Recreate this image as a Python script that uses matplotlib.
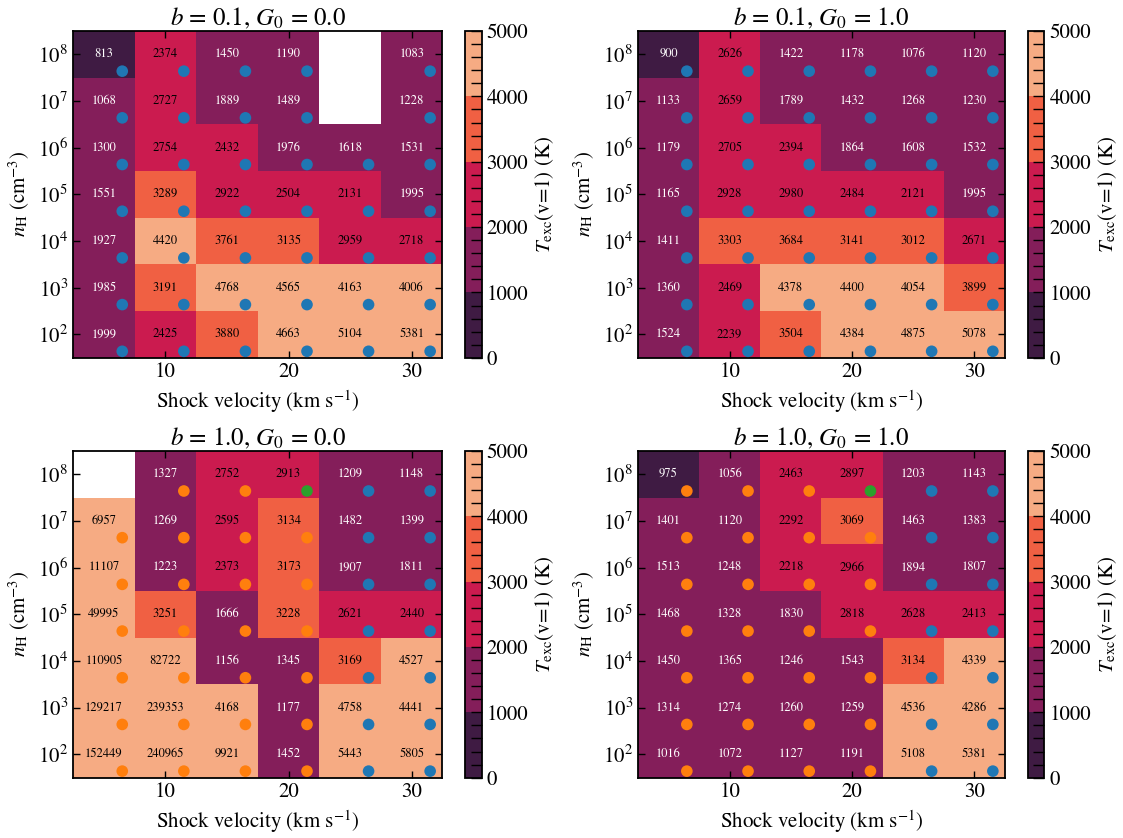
import numpy as np
import matplotlib
matplotlib.use("Agg")
import matplotlib.pyplot as plt
import seaborn as sns
from matplotlib.colors import ListedColormap
from matplotlib.ticker import MultipleLocator

plt.rcParams['font.family'] = ['STIXGeneral', 'DejaVu Serif']
plt.rcParams['mathtext.fontset'] = 'stix'

velocities = [5, 10, 15, 20, 25, 30]                 # km/s
densities = [1e8, 1e7, 1e6, 1e5, 1e4, 1e3, 1e2]      # cm^-3, top row first

titles = [r"$b$ = 0.1, $G_0$ = 0.0", r"$b$ = 0.1, $G_0$ = 1.0",
          r"$b$ = 1.0, $G_0$ = 0.0", r"$b$ = 1.0, $G_0$ = 1.0"]

nan = np.nan
tex_b01_g00 = [[813, 2374, 1450, 1190, nan, 1083],
               [1068, 2727, 1889, 1489, nan, 1228],
               [1300, 2754, 2432, 1976, 1618, 1531],
               [1551, 3289, 2922, 2504, 2131, 1995],
               [1927, 4420, 3761, 3135, 2959, 2718],
               [1985, 3191, 4768, 4565, 4163, 4006],
               [1999, 2425, 3880, 4663, 5104, 5381]]

tex_b01_g10 = [[900, 2626, 1422, 1178, 1076, 1120],
               [1133, 2659, 1789, 1432, 1268, 1230],
               [1179, 2705, 2394, 1864, 1608, 1532],
               [1165, 2928, 2980, 2484, 2121, 1995],
               [1411, 3303, 3684, 3141, 3012, 2671],
               [1360, 2469, 4378, 4400, 4054, 3899],
               [1524, 2239, 3504, 4384, 4875, 5078]]

tex_b10_g00 = [[nan, 1327, 2752, 2913, 1209, 1148],
               [6957, 1269, 2595, 3134, 1482, 1399],
               [11107, 1223, 2373, 3173, 1907, 1811],
               [49995, 3251, 1666, 3228, 2621, 2440],
               [110905, 82722, 1156, 1345, 3169, 4527],
               [129217, 239353, 4168, 1177, 4758, 4441],
               [152449, 240965, 9921, 1452, 5443, 5805]]

tex_b10_g10 = [[975, 1056, 2463, 2897, 1203, 1143],
               [1401, 1120, 2292, 3069, 1463, 1383],
               [1513, 1248, 2218, 2966, 1894, 1807],
               [1468, 1328, 1830, 2818, 2628, 2413],
               [1450, 1365, 1246, 1543, 3134, 4339],
               [1314, 1274, 1260, 1259, 4536, 4286],
               [1016, 1072, 1127, 1191, 5108, 5381]]

# shock type per model: 0, 1, 2 -> C0, C1, C2 ; -1 = no model
type_b01_g00 = [[0, 0, 0, 0, -1, 0],
                [0, 0, 0, 0, -1, 0],
                [0, 0, 0, 0, 0, 0],
                [0, 0, 0, 0, 0, 0],
                [0, 0, 0, 0, 0, 0],
                [0, 0, 0, 0, 0, 0],
                [0, 0, 0, 0, 0, 0]]

type_b01_g10 = [[0] * 6 for i in range(7)]

type_b10_g00 = [[-1, 1, 1, 2, 0, 0],
                [1, 1, 1, 1, 0, 0],
                [1, 1, 1, 1, 0, 0],
                [1, 1, 1, 1, 0, 0],
                [1, 1, 1, 1, 0, 0],
                [1, 1, 1, 1, 0, 0],
                [1, 1, 1, 1, 0, 0]]

type_b10_g10 = [[1, 1, 1, 2, 0, 0],
                [1, 1, 1, 1, 0, 0],
                [1, 1, 1, 1, 0, 0],
                [1, 1, 1, 1, 0, 0],
                [1, 1, 1, 1, 0, 0],
                [1, 1, 1, 1, 0, 0],
                [1, 1, 1, 1, 0, 0]]

tex_all = [tex_b01_g00, tex_b01_g10, tex_b10_g00, tex_b10_g10]
type_all = [type_b01_g00, type_b01_g10, type_b10_g00, type_b10_g10]

cmap = ListedColormap(sns.color_palette("rocket", 5))
cmap.set_over(cmap(4))
cmap.set_bad('white')
dot_colors = ['C0', 'C1', 'C2']

# axes positions in figure fraction [left, bottom, width, height]
ax_pos = [[0.065, 0.573, 0.329, 0.390], [0.568, 0.573, 0.327, 0.390],
          [0.065, 0.072, 0.329, 0.390], [0.568, 0.072, 0.327, 0.390]]
cb_pos = [[0.414, 0.573, 0.015, 0.390], [0.915, 0.573, 0.015, 0.390],
          [0.414, 0.072, 0.015, 0.390], [0.915, 0.072, 0.015, 0.390]]


def main():
    fig = plt.figure(figsize=(11.23, 8.38), dpi=100)

    v = np.array(velocities, dtype=float)
    logn = np.log10(np.array(densities))[::-1]        # ascending
    n = 10 ** logn
    xedges = np.append(v - 2.5, v[-1] + 2.5)
    yedges = 10 ** np.append(logn - 0.5, logn[-1] + 0.5)

    for k in range(4):
        ax = fig.add_axes(ax_pos[k])
        tex = np.array(tex_all[k], dtype=float)[::-1]
        typ = np.array(type_all[k])[::-1]

        mesh = ax.pcolormesh(xedges, yedges, np.ma.masked_invalid(tex),
                             cmap=cmap, vmin=0, vmax=5000)
        ax.set_yscale('log')
        ax.set_xlim(xedges[0], xedges[-1])
        ax.set_ylim(yedges[0], yedges[-1])

        for i in range(len(n)):
            for j in range(len(v)):
                if np.isnan(tex[i, j]):
                    continue
                col = 'white' if tex[i, j] < 2000 else 'black'
                ax.text(v[j], n[i], "%d" % tex[i, j], ha='center', va='center',
                        fontsize=9, color=col)
                ax.scatter(v[j] + 1.5, n[i] * 10 ** -0.36, s=70,
                           color=dot_colors[typ[i, j]], edgecolors='none', zorder=3)

        ax.set_xticks([10, 20, 30])
        ax.set_yticks([1e2, 1e3, 1e4, 1e5, 1e6, 1e7, 1e8])
        ax.minorticks_off()
        ax.tick_params(direction='in', top=True, right=True, labelsize=15,
                       length=5, width=1)
        for sp in ax.spines.values():
            sp.set_linewidth(1.3)
        ax.set_xlabel(r"Shock velocity (km s$^{-1}$)", fontsize=15)
        ax.set_ylabel(r"$n_\mathrm{H}$ (cm$^{-3}$)", fontsize=15)
        ax.set_title(titles[k], fontsize=18, pad=4)

        cax = fig.add_axes(cb_pos[k])
        cb = fig.colorbar(mesh, cax=cax, extend='neither')
        cb.set_ticks([0, 1000, 2000, 3000, 4000, 5000])
        cb.ax.yaxis.set_minor_locator(MultipleLocator(200))
        cb.ax.tick_params(which='both', direction='in', labelsize=15, width=1)
        cb.ax.tick_params(which='major', length=8)
        cb.ax.tick_params(which='minor', length=8)
        cb.outline.set_linewidth(1.3)
        cb.set_label(r"$T_\mathrm{exc}$(v=1) (K)", fontsize=15)

    fig.savefig("out.png", dpi=100)


main()
